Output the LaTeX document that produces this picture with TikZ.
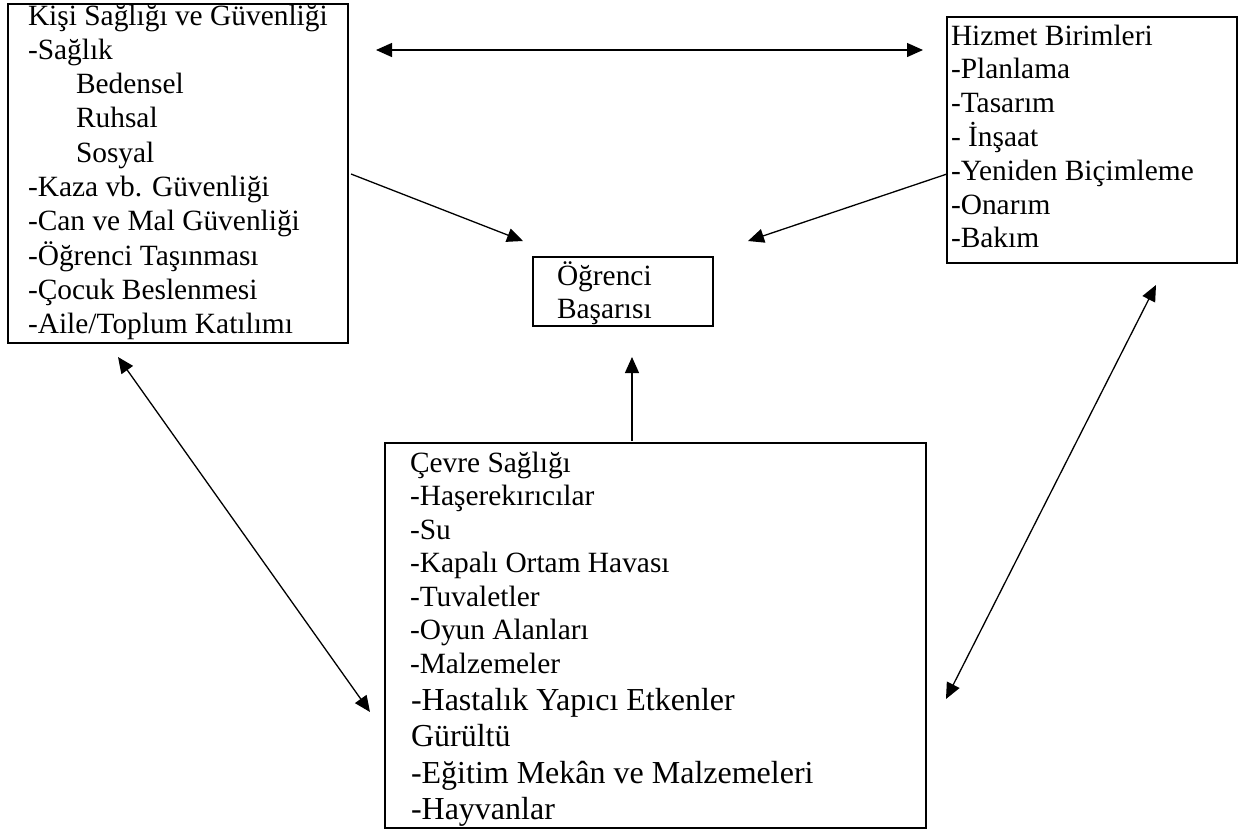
\documentclass[tikz,border=0pt]{standalone}
\usepackage{fontspec}
\setmainfont{Liberation Serif}
\usetikzlibrary{arrows.meta}
\begin{document}
\begin{tikzpicture}[x=0.5pt,y=-0.5pt,
  box/.style={draw,line width=1pt,inner sep=0pt,outer sep=0pt,anchor=north west},
  txt/.style={inner sep=0pt,outer sep=0pt,anchor=base west,font=\fontsize{14.7}{17}\selectfont},
  txtb/.style={inner sep=0pt,outer sep=0pt,anchor=base west,font=\fontsize{16}{18}\selectfont},
  conn/.style={line width=0.65pt,-{Triangle[length=8pt,width=7pt]}},
  conntwo/.style={line width=0.65pt,{Triangle[length=8pt,width=7pt]}-{Triangle[length=8pt,width=7pt]}}]
\useasboundingbox (0,0) rectangle (1239,831);
\fill[white] (0,0) rectangle (1239,831);

% boxes
\node[box,minimum width=170pt,minimum height=169.5pt] (L) at (8,4) {};
\node[box,minimum width=145pt,minimum height=123pt] (R) at (947,17) {};
\node[box,minimum width=90pt,minimum height=34.5pt] (C) at (533,257) {};
\node[box,minimum width=270.5pt,minimum height=192.5pt] (B) at (385,443) {};

% left box text
\node[txt] (l1) at (28,25) {Kişi Sağlığı ve Güvenliği};
\node[txt] (l2) at (28,59.3) {-Sağlık};
\node[txt] (l3) at (76,93.6) {Bedensel};
\node[txt] (l4) at (76,127.9) {Ruhsal};
\node[txt] (l5) at (76,162.2) {Sosyal};
\node[txt] (l6) at (28,196.5) {-Kaza vb. Güvenliği};
\node[txt] (l7) at (28,230.8) {-Can ve Mal Güvenliği};
\node[txt] (l8) at (28,265.1) {-Öğrenci Taşınması};
\node[txt] (l9) at (28,299.4) {-Çocuk Beslenmesi};
\node[txt] (l10) at (28,333.7) {-Aile/Toplum Katılımı};

% right box text
\node[txt] (r1) at (951,45) {Hizmet Birimleri};
\node[txt] (r2) at (951,78.8) {-Planlama};
\node[txt] (r3) at (951,112.6) {-Tasarım};
\node[txt] (r4) at (951,146.4) {- İnşaat};
\node[txt] (r5) at (951,180.2) {-Yeniden Biçimleme};
\node[txt] (r6) at (951,214) {-Onarım};
\node[txt] (r7) at (951,247.8) {-Bakım};

% center box text
\node[txt] (c1) at (557,285) {Öğrenci};
\node[txt] (c2) at (557,318) {Başarısı};

% bottom box text
\node[txt] (b1) at (410,472) {Çevre Sağlığı};
\node[txt] (b2) at (410,505.5) {-Haşerekırıcılar};
\node[txt] (b3) at (410,539) {-Su};
\node[txt] (b4) at (410,572.5) {-Kapalı Ortam Havası};
\node[txt] (b5) at (410,606) {-Tuvaletler};
\node[txt] (b6) at (410,639.5) {-Oyun Alanları};
\node[txt] (b7) at (410,673) {-Malzemeler};
\node[txtb] (b8) at (411,710) {-Hastalık Yapıcı Etkenler};
\node[txtb] (b9) at (411,746.5) {Gürültü};
\node[txtb] (b10) at (411,783) {-Eğitim Mekân ve Malzemeleri};
\node[txtb] (b11) at (411,819.5) {-Hayvanlar};

% connector end points
\coordinate (t1) at (376,50);
\coordinate (t2) at (923,50);
\coordinate (lc1) at (351,174);
\coordinate (lc2) at (523,241);
\coordinate (rc1) at (947,174);
\coordinate (rc2) at (748,241);
\coordinate (bc1) at (632,441);
\coordinate (bc2) at (632,357);
\coordinate (lb1) at (118,357);
\coordinate (lb2) at (370,712);
\coordinate (rb1) at (1156,285);
\coordinate (rb2) at (946,699);

% connectors
\draw[conntwo] (t1) -- (t2);
\draw[conn] (lc1) -- (lc2);
\draw[conn] (rc1) -- (rc2);
\draw[conn] (bc1) -- (bc2);
\draw[conntwo] (lb1) -- (lb2);
\draw[conntwo] (rb1) -- (rb2);
\end{tikzpicture}
\end{document}
